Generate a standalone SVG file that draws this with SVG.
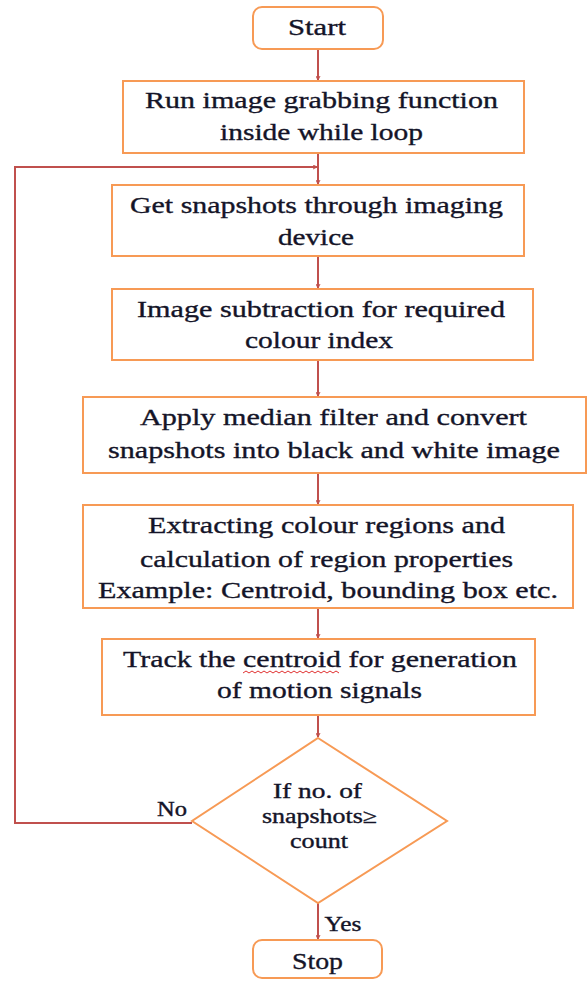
<svg xmlns="http://www.w3.org/2000/svg" width="587" height="981" viewBox="0 0 587 981">
<defs>
<style>
.box{fill:#fff;stroke:#F79A55;stroke-width:2}
.ln{fill:none;stroke:#C0504D;stroke-width:2}
.t{font-family:"Liberation Serif","Times New Roman",serif;font-size:24px;fill:#141428;text-anchor:middle;stroke:#141428;stroke-width:0.35}
.s{font-size:20px}
</style>
<marker id="ah" viewBox="0 0 10 10" refX="9" refY="5" markerWidth="5" markerHeight="5" orient="auto" markerUnits="userSpaceOnUse">
<path d="M1,1 L9,5 L1,9" fill="none" stroke="#C0504D" stroke-width="2"/>
</marker>
</defs>
<rect width="587" height="981" fill="#fff"/>
<g id="connectors">
<line class="ln" x1="318" y1="49" x2="318" y2="80" marker-end="url(#ah)"/>
<line class="ln" x1="318" y1="153" x2="318" y2="184" marker-end="url(#ah)"/>
<polyline class="ln" points="192,823 15,823 15,167 317,167" marker-end="url(#ah)"/>
<line class="ln" x1="318" y1="256" x2="318" y2="288" marker-end="url(#ah)"/>
<line class="ln" x1="318" y1="360" x2="318" y2="396" marker-end="url(#ah)"/>
<line class="ln" x1="318" y1="473" x2="318" y2="504" marker-end="url(#ah)"/>
<line class="ln" x1="318" y1="608" x2="318" y2="638" marker-end="url(#ah)"/>
<line class="ln" x1="318" y1="715" x2="318" y2="737" marker-end="url(#ah)"/>
<line class="ln" x1="318" y1="903" x2="318" y2="939" marker-end="url(#ah)"/>
<text class="t s" x="172" y="816" textLength="30" lengthAdjust="spacingAndGlyphs">No</text>
<text class="t s" x="343" y="931" textLength="37" lengthAdjust="spacingAndGlyphs">Yes</text>
</g>
<g id="start">
<rect class="box" x="253" y="7" width="130" height="42" rx="9"/>
<text class="t" x="317" y="35" textLength="58" lengthAdjust="spacingAndGlyphs">Start</text>
</g>
<g id="n1">
<rect class="box" x="123" y="81" width="401" height="72"/>
<text class="t" x="321.5" y="108" textLength="353" lengthAdjust="spacingAndGlyphs">Run image grabbing function</text>
<text class="t" x="321.5" y="140" textLength="203" lengthAdjust="spacingAndGlyphs">inside while  loop</text>
</g>
<g id="n2">
<rect class="box" x="112" y="185" width="412" height="71"/>
<text class="t" x="316.5" y="213" textLength="373" lengthAdjust="spacingAndGlyphs">Get snapshots through imaging</text>
<text class="t" x="316" y="245" textLength="76" lengthAdjust="spacingAndGlyphs">device</text>
</g>
<g id="n3">
<rect class="box" x="112" y="289" width="421" height="71"/>
<text class="t" x="321" y="317" textLength="368" lengthAdjust="spacingAndGlyphs">Image subtraction for required</text>
<text class="t" x="319" y="348" textLength="148" lengthAdjust="spacingAndGlyphs">colour index</text>
</g>
<g id="n4">
<rect class="box" x="83" y="397" width="503" height="76"/>
<text class="t" x="333.5" y="425" textLength="387" lengthAdjust="spacingAndGlyphs">Apply median filter and convert</text>
<text class="t" x="334" y="458" textLength="452" lengthAdjust="spacingAndGlyphs">snapshots into black and white image</text>
</g>
<g id="n5">
<rect class="box" x="83" y="505" width="490" height="103"/>
<text class="t" x="326.5" y="533" textLength="357" lengthAdjust="spacingAndGlyphs">Extracting colour regions  and</text>
<text class="t" x="326.5" y="567" textLength="373" lengthAdjust="spacingAndGlyphs">calculation of region properties</text>
<text class="t" x="328" y="598" textLength="460" lengthAdjust="spacingAndGlyphs">Example: Centroid, bounding box etc.</text>
</g>
<g id="n6">
<rect class="box" x="102" y="639" width="433" height="76"/>
<text class="t" x="320" y="667" textLength="394" lengthAdjust="spacingAndGlyphs">Track the centroid for generation</text>
<text class="t" x="319.5" y="698" textLength="205" lengthAdjust="spacingAndGlyphs">of motion signals</text>
<path d="M243,673 l3,-2 l3,2 l3,-2 l3,2 l3,-2 l3,2 l3,-2 l3,2 l3,-2 l3,2 l3,-2 l3,2 l3,-2 l3,2 l3,-2 l3,2 l3,-2 l3,2 l3,-2 l3,2 l3,-2 l3,2 l3,-2 l3,2 l3,-2 l3,2 l3,-2 l3,2 l3,-2 l3,2 l3,-2 l3,2" fill="none" stroke="#E03030" stroke-width="1"/>
</g>
<g id="decision">
<polygon class="box" points="318,738 447,821 318,903 192,821"/>
<text class="t s" x="317.5" y="798" textLength="89" lengthAdjust="spacingAndGlyphs">If no. of</text>
<text class="t s" x="319.5" y="823" textLength="115" lengthAdjust="spacingAndGlyphs">snapshots≥</text>
<text class="t s" x="319" y="848" textLength="58" lengthAdjust="spacingAndGlyphs">count</text>
</g>
<g id="stop">
<rect class="box" x="253" y="940" width="129" height="38" rx="9"/>
<text class="t" x="317.5" y="969" textLength="51" lengthAdjust="spacingAndGlyphs">Stop</text>
</g>
</svg>
